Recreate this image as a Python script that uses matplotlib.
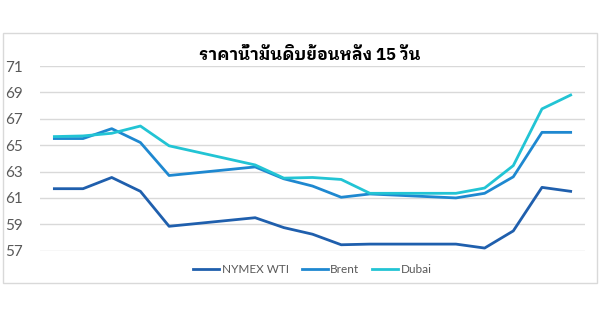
import numpy as np
import matplotlib
matplotlib.use("Agg")
import matplotlib.pyplot as plt

thai = ["IBM Plex Sans Thai Looped", "Noto Sans Thai Looped", "Loma", "DejaVu Sans"]

days = [0, 1, 2, 3, 4, 7, 8, 9, 10, 11, 14, 15, 16, 17, 18]
wti = [61.7, 61.7, 62.55, 61.5, 58.85, 59.5, 58.75, 58.25, 57.45, 57.5, 57.5, 57.2, 58.5, 61.8, 61.5]
brent = [65.5, 65.5, 66.25, 65.2, 62.7, 63.35, 62.45, 61.9, 61.05, 61.3, 61.0, 61.35, 62.6, 65.97, 65.97]
dubai = [65.65, 65.7, 65.9, 66.45, 64.95, 63.5, 62.5, 62.55, 62.4, 61.35, 61.35, 61.75, 63.45, 67.75, 68.8]
yticks = list(range(57, 72, 2))

fig = plt.figure(figsize=(6, 3.14), dpi=100)
ax = fig.add_axes([0.0667, 0.2016, 0.9083, 0.5882])
ax.plot(days, wti, color="#1F5FAD", lw=2.0, label="NYMEX WTI")
ax.plot(days, brent, color="#1E88D0", lw=2.0, label="Brent")
ax.plot(days, dubai, color="#22C4D4", lw=2.0, label="Dubai")
ax.set_xlim(-0.5, 18.5)
ax.set_ylim(57, 71)
ax.set_yticks(yticks)
ax.set_yticklabels([str(v) for v in yticks], family="Lato")
ax.set_xticks([])
ax.grid(axis="y", color="#D9D9D9", lw=1)
ax.set_axisbelow(True)
for s in ax.spines.values():
    s.set_visible(False)
ax.tick_params(axis="y", length=0, labelsize=11, labelcolor="#595959", pad=12)

# title
fig.text(0.517, 0.825, "ราคาน้ำมันดิบย้อนหลัง 15 วัน", ha="center", va="center",
         fontsize=12, fontweight="bold", family=thai)

ax.legend(loc="center", bbox_to_anchor=(0.5, -0.10), ncol=3, frameon=False,
          prop={"family": "Lato", "size": 8.5}, handlelength=2.2,
          columnspacing=1.1, handletextpad=0.2, labelcolor="#595959")

# outer chart border
fig.patches.append(plt.Rectangle((0.005, 0.0987), 0.99, 0.796, transform=fig.transFigure,
                                 fill=False, edgecolor="#D9D9D9", lw=1))
fig.savefig("out.png", dpi=100)
